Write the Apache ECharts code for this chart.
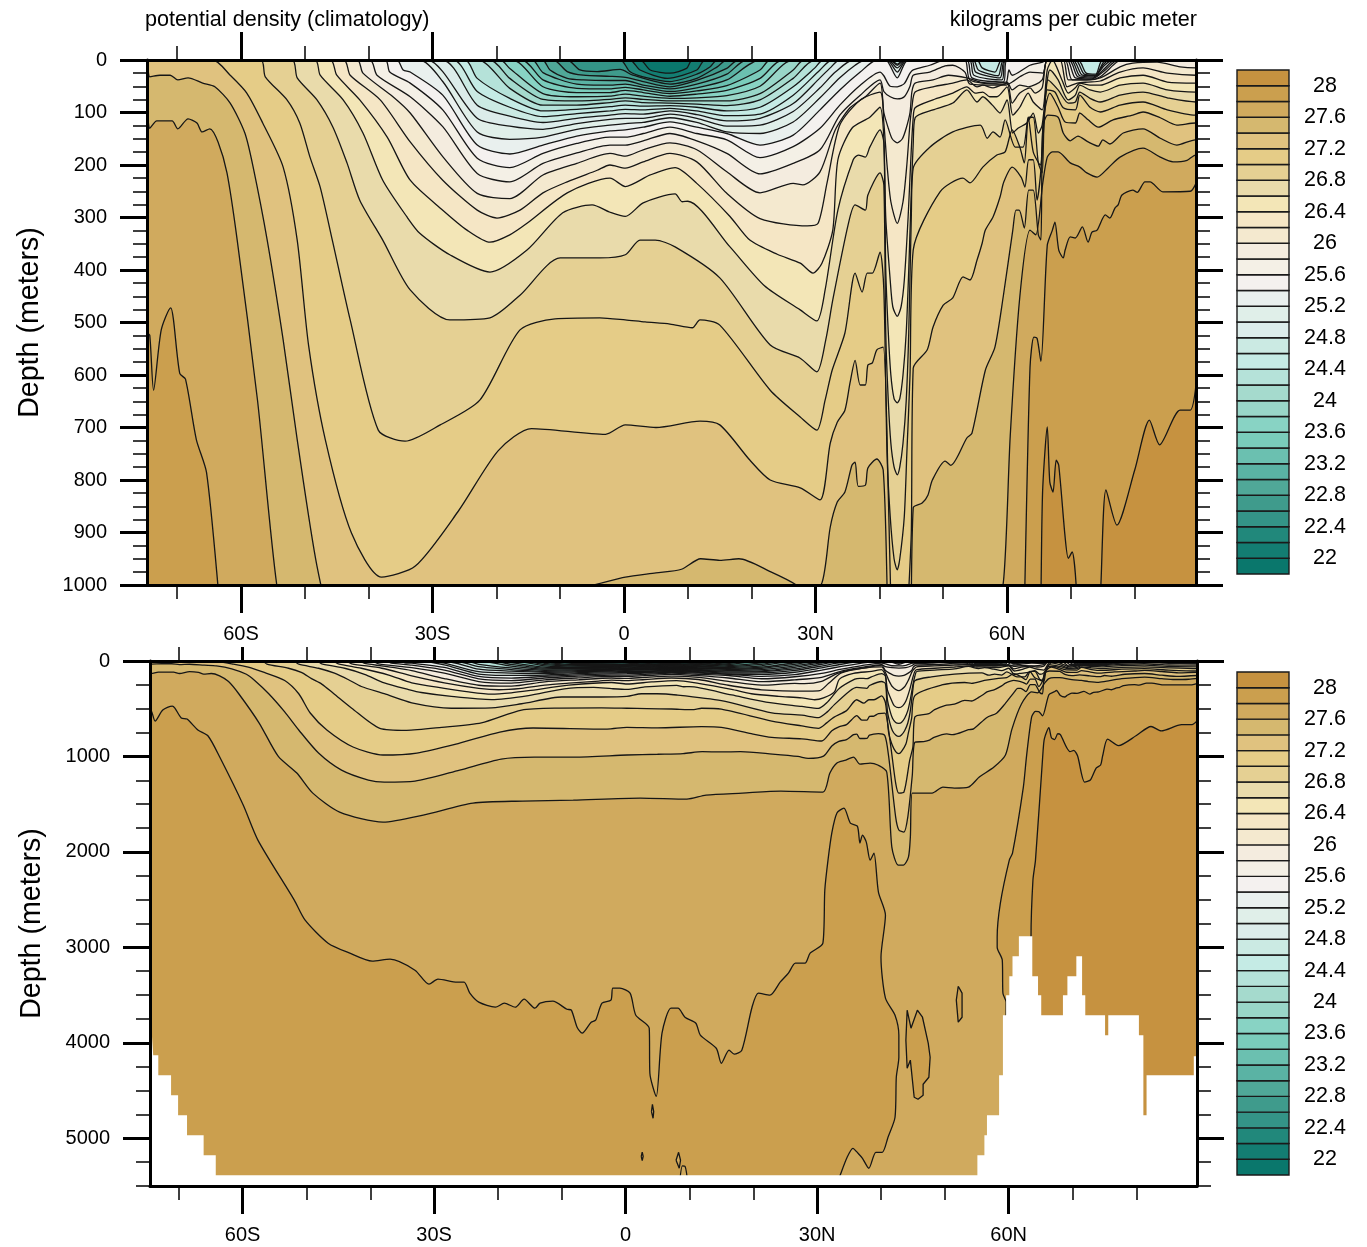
<!DOCTYPE html>
<html><head><meta charset="utf-8">
<script src="https://cdn.jsdelivr.net/npm/echarts@6/dist/echarts.min.js"></script>
<style>html,body{margin:0;background:#fff}#c{width:1367px;height:1247px}</style></head>
<body><div id="c"></div>
<script>
const majorLat=[-60,-30,0,30,60];
const minorLat=[-70,-50,-40,-20,-10,10,20,40,50,70,80];
const barLabels=[22,22.4,22.8,23.2,23.6,24,24.4,24.8,25.2,25.6,26,26.4,26.8,27.2,27.6,28];
const binEdges=[21.8,22,22.2,22.4,22.6,22.8,23,23.2,23.4,23.6,23.8,24,24.2,24.4,24.6,24.8,25,25.2,25.4,25.6,25.8,26,26.2,26.4,26.6,26.8,27,27.2,27.4,27.6,27.8,28,28.2];
const binColors=['#0a776c','#137d72','#21887b','#349487','#3f9b8c','#50a898','#5ab3a4','#6bc0b0','#7accbb','#88d3c4','#99d6c8','#a5dacd','#b5e2d9','#c5ebe5','#cbeae3','#dcecea','#e0efe9','#e9f0ee','#f4f1ef','#f4f0e6','#f4ecdf','#f4e9cf','#f5e6c5','#f3e6b7','#e9dbab','#e5d093','#e5cc87','#e0c27f','#d5b86f','#d0aa5e','#cb9f4e','#c69240'];
const c220=[[2.5,0],[4.1,19],[7.2,25],[9.8,16],[10.7,0]];
const c222=[[0.9,0],[2.5,19],[6.8,35],[11.4,19],[12.7,0]];
const c224=[[-0.6,0],[0.9,22],[3,32],[7.2,41],[11.4,27],[13.5,13],[14.6,0]];
const c226=[[-8.9,0],[-6.9,19],[-4.2,22],[-0.6,18],[1.4,29],[7.2,46],[11.4,35],[14.6,13],[16.1,0]];
const c228=[[-11.1,0],[-8.9,22],[-6.4,29],[-2.2,31],[0.2,33],[3,41],[7.2,51],[11.4,39],[16.1,16],[17.9,0]];
const c230=[[-12.8,0],[-11.6,19],[-8.9,35],[-6.4,38],[-2.2,39],[0.2,39],[3,48],[7.2,55],[11.4,46],[16.1,27],[19.2,0]];
const c232=[[-14.4,0],[-12.7,24],[-7.4,46],[-2.2,48],[0.2,46],[3,52],[7.2,60],[11.4,53],[16.1,38],[21.3,0]];
const c234=[[-16,0],[-12.7,38],[-7.4,54],[-2.2,55],[0.2,52],[3,57],[7.2,64],[11.4,59],[16.1,49],[21.3,19],[22.9,0]];
const c236=[[-17.5,0],[-12.7,51],[-7.4,62],[-2.2,62],[0.2,58],[3,62],[7.2,69],[11.4,65],[16.1,58],[21.3,35],[24.8,0]];
const c238=[[-19.4,0],[-17.9,16],[-12.7,64],[-7.4,70],[-2.2,69],[0.2,65],[3,69],[7.2,73],[11.4,72],[16.1,68],[21.3,50],[26.5,0]];
const c240=[[-21,0],[-17.9,35],[-12.7,75],[-7.4,78],[-2.2,75],[0.2,72],[3,75],[7.2,78],[11.4,78],[16.1,78],[21.3,64],[26.5,19],[28.2,0]];
const c242=[[-22.9,0],[-17.9,54],[-12.7,86],[-7.4,86],[-2.2,81],[0.2,78],[3,81],[7.2,82],[11.4,84],[16.1,87],[21.3,76],[26.5,35],[29.9,0]];
const c244=[[-24.9,0],[-23,35],[-17.9,73],[-12.7,97],[-7.4,94],[-2.2,89],[0.2,86],[3,88],[7.2,87],[11.4,90],[16.1,97],[21.3,90],[26.5,51],[29.9,15],[31.2,0]];
const c246=[[-26.8,0],[-23,60],[-17.9,90],[-12.7,108],[-7.4,102],[-2.2,97],[0.2,94],[3,95],[7.2,92],[11.4,97],[16.1,106],[21.3,103],[26.5,67],[30.7,19],[32.6,0],[41.8,0],[42.8,8],[43.8,0],[55.3,0],[56.1,15],[58.1,23],[59.2,0],[71.1,0],[72.4,25],[73.9,27],[75,0]];
const c248=[[-28.5,0],[-23,86],[-17.9,107],[-12.7,119],[-7.4,111],[-2.2,105],[0.2,102],[3,103],[7.2,97],[11.4,104],[16.1,116],[21.3,111],[26.5,83],[30.7,34],[32.3,15],[33.8,0],[41.7,0],[42.8,10],[44,0],[54.7,0],[55.5,19],[58.6,30],[59.5,0],[70.7,0],[72.1,27],[73.9,29],[75.5,0]];
const c250=[[-30.7,0],[-28.4,22],[-23,111],[-17.9,126],[-12.7,132],[-7.4,121],[-2.2,113],[0.2,111],[3,111],[7.2,103],[11.4,111],[16.1,126],[21.3,124],[26.5,98],[30.7,53],[33.1,23],[35.9,0],[41.4,0],[42.8,15],[44.2,0],[54.4,0],[55.1,23],[58.9,34],[59.7,0],[70.3,0],[71.8,29],[73.8,30],[75,10],[76,0]];
const c252=[[-32,0],[-28.4,41],[-23,137],[-17.9,151],[-12.7,147],[-7.4,132],[-2.2,124],[0.2,121],[3,119],[7.2,110],[11.4,119],[16.1,137],[21.3,140],[26.5,118],[30.7,72],[33.8,34],[36.2,10],[37.8,0],[41.2,0],[42.8,23],[44.3,0],[54.1,0],[54.8,29],[59.2,38],[59.8,0],[70,0],[71.4,30],[73.6,32],[75.2,11],[76.5,0]];
const c254=[[-35.6,0],[-34.6,19],[-33.5,23],[-28.4,67],[-23,162],[-17.9,179],[-12.7,162],[-7.4,145],[-2.2,135],[0.2,133],[3,128],[7.2,118],[11.4,128],[16.1,140],[21.3,162],[26.5,143],[30.7,95],[33.8,57],[37,23],[39.6,0],[41,0],[42.8,34],[44.5,0],[53.7,0],[54.5,34],[59.4,42],[60,0],[69.7,0],[71.1,32],[73.5,34],[75.4,15],[76.9,0]];
const c256=[[-37.4,0],[-36.7,23],[-33.5,44],[-28.4,95],[-23,187],[-17.9,205],[-12.7,178],[-7.4,159],[-2.2,147],[0.2,147],[3,140],[7.2,128],[11.4,140],[16.1,152],[21.3,186],[26.5,165],[30.7,130],[33.8,86],[37,48],[40.1,23],[40.7,30],[41.7,50],[42.8,51],[43.9,45],[44.8,25],[45.3,19],[47.9,10],[50.3,0],[53.4,0],[54.2,38],[59.7,46],[60.3,19],[60.8,29],[63.6,10],[65.6,4],[66.1,0],[69.4,0],[70.7,34],[73.3,36],[75.4,19],[77.4,0]];
const c258=[[-39.8,0],[-38.7,29],[-33.5,70],[-28.4,127],[-23,216],[-17.9,232],[-12.7,197],[-7.4,177],[-2.2,162],[0.2,162],[3,154],[7.2,140],[11.4,154],[16.1,178],[21.3,217],[26.5,197],[30.7,171],[33.8,105],[37,67],[40.1,38],[40.7,60],[41.7,70],[42.8,74],[43.9,70],[44.8,50],[45.3,29],[47.9,23],[50.3,11],[51.5,10],[53.4,23],[54.2,46],[59.7,48],[60.8,42],[62,32],[63.6,23],[65.6,25],[66.3,0],[69.1,0],[70.2,38],[73,38],[74.6,32],[77.2,4],[78.2,0]];
const c260=[[-41.8,0],[-40.9,25],[-36.2,70],[-33.5,101],[-28.4,184],[-23,254],[-17.9,264],[-12.7,219],[-7.4,197],[-2.2,178],[0.2,183],[3,171],[7.2,158],[11.4,171],[16.1,213],[21.3,253],[26.5,235],[28,238],[30.7,213],[33.1,133],[35.4,91],[37.8,70],[40.1,44],[40.7,100],[41.4,130],[42,150],[42.8,158],[43.6,150],[44.2,130],[44.8,100],[45.1,60],[45.6,44],[48.4,38],[50.8,29],[53.7,34],[55.8,42],[57.8,44],[60,42],[60.8,57],[62,48],[63.3,51],[65.5,38],[66.3,0],[68.8,0],[69.6,38],[71.4,38],[74.6,34],[77.7,13],[79.7,6],[83.5,4],[87.1,13],[89.6,15]];
const c262=[[-43.9,0],[-42.9,29],[-38.2,76],[-33.5,156],[-28.4,229],[-23,286],[-19.9,301],[-16.3,286],[-12.7,253],[-8.9,232],[-4.2,210],[-2.2,200],[0.2,206],[3,194],[7.2,178],[11.4,194],[16.1,254],[21.3,302],[28.7,316],[30.4,311],[31.8,234],[33.8,124],[37,76],[40.1,61],[40.7,120],[41.2,200],[41.8,270],[42.8,311],[43.7,270],[44.3,200],[44.8,120],[45.1,90],[45.6,61],[48.4,51],[51.5,44],[53.7,38],[55.3,51],[56.2,48],[57.8,53],[60,44],[60.8,82],[62,63],[63.6,53],[64.4,63],[65.5,53],[66.3,0],[68.3,0],[69.4,51],[71,44],[72.7,42],[74.6,40],[77.7,23],[81.3,15],[85.1,25],[89.6,29]];
const c264=[[-46,0],[-45,29],[-41.4,76],[-37.1,147],[-33.5,229],[-28.4,286],[-24.6,324],[-21,347],[-17.9,333],[-15.2,311],[-8.9,253],[-2.2,225],[0.2,241],[4.1,219],[8,205],[11.4,235],[16.6,298],[19.7,343],[24,370],[27.6,387],[29.6,406],[31,387],[32.7,324],[33.5,190],[35.7,130],[38.5,109],[40.1,90],[40.7,150],[41,300],[41.7,420],[42.1,470],[42.8,488],[43.4,470],[43.9,420],[44.5,300],[45,170],[45.3,110],[45.6,91],[48.4,76],[51.5,63],[53.7,51],[55,63],[56.2,61],[57.3,70],[58.4,70],[60,51],[60.9,105],[62,90],[63.3,63],[64.1,80],[65.5,95],[66.3,19],[67.1,0],[68.6,38],[69.6,63],[70.7,53],[71.4,44],[73,48],[74.6,48],[77.7,34],[81.3,29],[85.1,42],[89.6,44]];
const c266=[[-48.4,0],[-47.6,29],[-44,76],[-40.9,139],[-37.8,229],[-34,299],[-32,330],[-27.3,371],[-21,404],[-15.2,362],[-9.6,291],[-5,276],[-2.2,290],[0.2,298],[3,272],[8,255],[9.1,270],[10,269],[16.6,356],[22,430],[27.6,476],[30.2,497],[31.5,438],[33.5,286],[35.9,190],[36.7,181],[37.8,185],[38.5,166],[40.1,133],[40.7,158],[41,400],[41.4,520],[41.8,600],[42.3,645],[42.8,653],[43.2,645],[43.7,600],[44.2,520],[44.6,400],[45,250],[45.3,160],[45.6,110],[48.4,95],[51.5,82],[53.7,57],[55.3,80],[56.2,70],[57.7,86],[58.9,101],[60,76],[60.9,139],[61.7,130],[63.1,120],[64.1,101],[64.9,139],[65.5,124],[66.3,38],[66.7,19],[68,38],[69.6,76],[70.7,67],[71.4,48],[73,57],[74.6,61],[77.7,48],[81.3,44],[85.1,57],[89.6,61]];
const c268=[[-52,0],[-51.2,34],[-48.1,76],[-45.6,128],[-43.4,196],[-41.4,267],[-37.8,343],[-33.5,438],[-27.3,495],[-21,491],[-16.3,448],[-10,377],[-3.8,377],[0.2,371],[2.5,343],[4.9,343],[8,356],[15,415],[22.9,543],[27.6,568],[30.2,594],[31.6,533],[32.7,457],[35.1,314],[36.2,276],[37.8,286],[38.2,257],[40.1,215],[40.7,238],[41,520],[41.4,650],[41.8,730],[42.3,775],[42.8,790],[43.2,775],[43.7,730],[44.2,650],[44.6,520],[45,300],[45.3,206],[47.9,166],[51.5,137],[55.8,124],[56.9,149],[57.8,137],[58.9,147],[59.7,114],[61.3,166],[62.5,166],[63.3,109],[64.1,175],[65.2,200],[65.8,120],[66.4,38],[68,57],[69.6,82],[70.7,80],[71.4,61],[73,73],[74.6,80],[77.7,67],[81.3,61],[85.1,72],[89.6,80]];
const c270=[[-56.9,0],[-56.2,32],[-52.8,76],[-50.8,120],[-49.2,185],[-47.6,242],[-45.7,343],[-42.9,495],[-38.5,705],[-34.3,726],[-28.8,695],[-22.6,648],[-16.3,514],[-10.8,493],[-3.8,491],[0.2,495],[3.3,499],[7.2,503],[10.7,510],[11.9,495],[15,505],[22.9,629],[27.6,680],[30.2,705],[31.5,648],[32.6,591],[34.6,520],[36.2,406],[37.3,442],[38.1,406],[38.9,406],[40.1,366],[40.7,438],[41.2,750],[41.7,870],[42.3,950],[42.8,971],[43.2,950],[43.9,870],[44.3,750],[44.8,600],[45.3,362],[49.5,251],[53.1,225],[54.2,234],[56.2,204],[58.4,181],[59.7,175],[60.8,133],[62,166],[62.7,196],[63.4,109],[64.1,109],[64.9,196],[65.5,215],[65.8,114],[66.3,57],[67.5,61],[68.8,91],[70.7,95],[71.4,67],[73,90],[74.6,99],[77.7,86],[81.3,80],[85.1,95],[89.5,105]];
const c272=[[-64.4,0],[-61.7,29],[-59.1,63],[-56.6,120],[-53.4,204],[-51.2,343],[-49.4,545],[-46.8,723],[-42.7,901],[-38,985],[-32.7,964],[-26,860],[-19.7,744],[-14.5,702],[-2.9,713],[0.2,695],[5,700],[11.9,688],[15,695],[19.7,762],[22.9,800],[27.6,815],[30.7,838],[32.3,730],[33.4,690],[34.6,667],[35.4,615],[36.2,572],[37,619],[37.8,619],[38.2,581],[38.9,577],[39.6,552],[40.6,547],[41.4,828],[42.3,1279],[42.8,1384],[43.6,1373],[44.5,1038],[45,900],[45.3,587],[47.5,552],[48.4,509],[50,467],[51.5,453],[53.1,413],[54.2,419],[55.3,381],[56.1,349],[56.6,324],[57.8,299],[58.9,261],[59.5,232],[60.8,204],[62.2,223],[62.8,242],[63.4,190],[64.1,190],[64.7,267],[65.3,210],[65.6,133],[66,90],[66.7,63],[68,90],[69.1,118],[70.7,120],[71.4,101],[72.7,114],[74.3,128],[76.6,114],[79.7,105],[81.3,99],[84,110],[86.6,124],[89.5,120]];
const c274=[[-74.7,6],[-74.3,32],[-72.7,29],[-71.1,29],[-69.9,38],[-68.3,34],[-66,44],[-64.1,51],[-61.7,82],[-59.4,139],[-58.1,204],[-55.9,343],[-53.4,533],[-51.2,723],[-48.1,964],[-44.5,1143],[-40.3,1247],[-37.8,1268],[-33,1258],[-26,1143],[-19.5,1027],[-14.3,1006],[-8,1006],[0.2,985],[5,977],[9,970],[12,950],[15,953],[18,950],[23,975],[27,1000],[28.6,1020],[31,996],[32.3,890],[33.4,842],[34.6,823],[35.7,772],[36.2,766],[36.7,812],[37.8,810],[38.2,777],[39.6,760],[40.6,781],[41.2,1000],[42.3,1635],[42.8,1771],[43.6,1792],[44.2,1635],[44.9,1200],[45.3,853],[46.7,844],[47.6,829],[48.3,800],[50.3,764],[51.2,772],[53.7,720],[54.5,711],[56.6,591],[58.1,547],[59.4,451],[60.9,324],[61.4,286],[61.9,286],[62.7,320],[63.4,248],[64.1,248],[64.9,333],[65.3,343],[65.6,128],[66.4,105],[68,109],[68.8,139],[69.9,154],[71.1,145],[72.7,156],[74.3,164],[75,152],[76.1,160],[78.2,139],[81.3,131],[84,149],[86.6,162],[89.5,152]];
const c276=[[-74.7,109],[-74.3,130],[-73.2,116],[-70.8,116],[-69.9,131],[-68.3,112],[-66.9,120],[-66.1,137],[-64.9,131],[-63.6,156],[-62.2,215],[-60.6,343],[-57.4,650],[-54.4,1000],[-51.5,1174],[-49,1384],[-44.8,1583],[-38,1688],[-31.7,1614],[-23.9,1488],[-16.1,1467],[-8.2,1457],[2.3,1436],[9.6,1447],[12.6,1405],[18.3,1384],[24.3,1363],[30.9,1373],[32,1174],[33.1,1069],[34.5,1038],[35.7,1006],[36.7,1080],[38.3,1069],[39.5,1090],[40.9,1163],[41.7,1950],[42.7,2139],[43.5,2139],[44.3,2055],[44.6,1845],[44.9,1384],[48,1384],[49.7,1321],[51.5,1331],[53.7,1321],[55.4,1216],[57.7,1111],[59.5,985],[60.5,716],[62,451],[63.6,324],[64.5,333],[65.6,234],[66.3,185],[67.1,175],[68,175],[69.9,196],[71.4,204],[72.5,215],[74.1,223],[75.8,206],[77.7,185],[81.3,168],[84,185],[86,194],[88.2,191],[89.5,181]];
const c278a=[[-74.7,520],[-74.3,524],[-73.7,629],[-72.5,514],[-71,472],[-70.6,493],[-69.6,597],[-68.7,608],[-67,723],[-65.4,786],[-63.5,1017],[-59.9,1509],[-57.6,1876],[-51.9,2505],[-50.2,2715],[-46.6,2956],[-43.2,3061],[-39.7,3145],[-36.9,3124],[-33,3239],[-30.8,3386],[-29.4,3333],[-26.4,3365],[-25.3,3365],[-24.4,3480],[-23,3574],[-20.4,3627],[-19,3585],[-17.3,3627],[-15.9,3543],[-14.2,3637],[-13.4,3585],[-11.4,3564],[-9.2,3648],[-8.5,3658],[-7.6,3836],[-6.8,3899],[-5.4,3784],[-4.7,3763],[-3.7,3585],[-2.3,3553],[-2,3428],[-0.9,3428],[0.7,3480],[1.6,3711],[3.7,3847],[3.8,4319],[4.8,4560],[5.7,3899],[7.1,3637],[8.2,3637],[9.3,3732],[11,3795],[11.7,3920],[14.2,4057],[15,4214],[16.2,4077],[17,4119],[18.2,4077],[19.8,3627],[20.8,3480],[22.6,3501],[24.2,3365],[25.5,3270],[26.6,3166],[28.1,3166],[28.9,3061],[30.9,2956],[31.2,2400],[31.7,2086],[32.3,1800],[33.1,1593],[34.2,1541],[35.2,1698],[36.3,1730],[36.7,1908],[37.1,1824],[37.7,1897],[38.3,2086],[38.9,2013],[39.6,2421],[40.7,2662],[40,3103],[40.7,3532],[42.2,3711],[42.8,3920],[42.8,4151],[42.4,4361],[42.2,4780],[41.1,4990],[40.2,5147],[39.2,5147],[38.1,5314],[37.1,5210],[36.4,5157],[35.6,5105],[34.7,5199],[33.6,5388],[33,5500]];
const c278b=[[59.6,5500],[59.6,3574],[59.1,3480],[59,3134],[58.2,2998],[58.2,2893],[58.7,2537],[60.1,2086],[60.6,2013],[62.3,1321],[62.8,996],[63.6,585],[64.2,528],[64.7,530],[65.3,574],[66.3,353],[67.1,324],[67.5,309],[68.1,362],[68.8,377],[69.1,362],[69.9,337],[70.7,339],[71.8,318],[72.7,347],[73.3,328],[74.1,324],[75.4,295],[76.1,301],[76.9,282],[77.4,276],[78,257],[79.7,248],[80.4,252],[81.6,232],[82.4,232],[84.4,251],[88.7,250],[89.6,235]];
const c280=[[63.5,5500],[63.5,2893],[63.8,2296],[64.2,2086],[65.4,933],[65.6,813],[66.3,699],[66.7,804],[67.2,823],[67.7,762],[68.1,772],[69.1,909],[69.6,949],[70.2,937],[70.8,996],[71.9,1268],[72.8,1247],[73.7,1122],[74.4,1090],[74.7,1000],[75.5,819],[77.2,886],[80,781],[82.3,686],[83.9,733],[87.1,667],[88.7,667],[89.6,619]];
const blobDense1=[[44.1,3658],[44.7,3847],[45.7,3658],[46.5,3732],[47.4,4004],[47.7,4151],[47.5,4361],[46.6,4434],[46.6,4549],[45.8,4591],[45.2,4570],[44.6,4182],[44.1,4266],[43.9,3973],[44.1,3658]];
const blobDense2=[[52.1,3407],[52.7,3480],[52.7,3732],[52.1,3784],[51.8,3553],[52.1,3407]];
const blobLight1=[[4.05,4720],[4.2,4644],[4.4,4720],[4.3,4790],[4.1,4790],[4.05,4720]];
const blobLight2=[[2.45,5190],[2.6,5145],[2.75,5190],[2.6,5235],[2.45,5190]];
const blobLight3=[[7.9,5230],[8.3,5147],[8.6,5230],[8.4,5314],[8.2,5314],[7.9,5230]];
const blobLight4=[[8.4,5500],[8.9,5290],[9.3,5293],[9.8,5500]];
const maskLat=[-74.5,-74.2,-74,-73.2,-71.2,-70.1,-68.7,-66.1,-64.2,55.1,56.2,56.6,58.5,59.1,59.6,60.1,60.6,61.6,63.7,64.6,65.1,68.5,69.2,70.6,71.5,72,75.1,75.6,80.4,81.1,81.6,89,90];
const maskDepth=[6000,3920,4130,4340,4549,4759,4969,5178,5388,5178,4969,4759,4340,3711,3501,3302,3092,2883,3302,3501,3711,3501,3302,3092,3501,3711,3920,3711,3920,4759,4340,4141,4141];

// contour, fill colour index of the band below it
const layers=[[c220,1],[c222,2],[c224,3],[c226,4],[c228,5],[c230,6],[c232,7],[c234,8],[c236,9],[c238,10],[c240,11],[c242,12],[c244,13],[c246,14],[c248,15],[c250,16],[c252,17],[c254,18],[c256,19],[c258,20],[c260,21],[c262,22],[c264,23],[c266,24],[c268,25],[c270,26],[c272,27],[c274,28],[c276,29],[c278a,30],[c278b,30],[blobDense1,30],[blobDense2,30],[blobLight1,29],[blobLight2,29],[blobLight3,29],[blobLight4,29],[c280,31]];
const partial=new Set([c278a,c278b,c280,blobLight4]);
const loops=new Set([blobDense1,blobDense2,blobLight1,blobLight2,blobLight3]);
const LATMIN=-75,LATMAX=90;
function full(c){
  if(partial.has(c)||loops.has(c))return c;
  const r=c.slice();
  if(r[0][0]>LATMIN)r.unshift([LATMIN,r[0][1]]);
  if(r[r.length-1][0]<LATMAX)r.push([LATMAX,r[r.length-1][1]]);
  return r;
}
const latFmt=v=>v<0?(-v)+'S':v>0?v+'N':'0';
const grids=[],xAxes=[],yAxes=[],series=[];
function addPanel(left,width,top,height,latMin,latMax,depthMax,yMaj,yMin,nameGap,topMajorLen,withMask){
  const g=grids.length;
  grids.push({left,top,width,height,show:true,backgroundColor:binColors[0],borderWidth:0,containLabel:false});
  const bx=xAxes.length,by=yAxes.length;
  const xa=(pos,vals,len,w,line,label)=>({type:'value',gridIndex:g,position:pos,min:latMin,max:latMax,z:50,splitLine:{show:false},
    axisLine:{show:line,onZero:false,lineStyle:{color:'#000',width:3}},
    axisTick:{show:true,customValues:vals,length:len,lineStyle:{color:'#000',width:w}},
    axisLabel:label?{show:true,customValues:vals,formatter:latFmt,margin:37,fontFamily:'Liberation Sans',fontSize:20,color:'#000',padding:[2,0,0,0]}:{show:false,customValues:vals}});
  xAxes.push(xa('bottom',majorLat,28,3,true,true),xa('bottom',minorLat,14,1.5,false,false),xa('top',majorLat,topMajorLen,3,true,false),xa('top',minorLat,14,1.5,false,false));
  const ya=(pos,vals,len,w,line,label)=>({type:'value',gridIndex:g,position:pos,inverse:true,min:0,max:depthMax,z:50,splitLine:{show:false},
    axisLine:{show:line,onZero:false,lineStyle:{color:'#000',width:3}},
    axisTick:{show:true,customValues:vals,length:len,lineStyle:{color:'#000',width:w}},
    axisLabel:label?{show:true,customValues:vals,formatter:v=>String(v),margin:40,fontFamily:'Liberation Sans',fontSize:20,color:'#000',padding:[2,0,0,0]}:{show:false,customValues:vals},
    ...(label?{name:'Depth (meters)',nameLocation:'middle',nameRotate:90,nameGap,nameTextStyle:{fontFamily:'Liberation Sans',fontSize:28.6,color:'#000'}}:{})});
  yAxes.push(ya('left',yMaj,27,3,true,true),ya('left',yMin,14,1.5,false,false),ya('right',yMaj,27,3,true,false),ya('right',yMin,14,1.5,false,false));
  layers.forEach(([c,ci])=>{
    const origin=loops.has(c)?c[0][1]:'end';
    series.push({type:'line',xAxisIndex:bx,yAxisIndex:by,data:full(c),symbol:'none',silent:true,animation:false,z:3,smooth:loops.has(c)?0:0.25,
      lineStyle:{color:'#161616',width:1.3},areaStyle:{origin,color:binColors[ci],opacity:1},clip:true});
  });
  if(withMask)series.push({type:'line',xAxisIndex:bx,yAxisIndex:by,step:'end',data:maskLat.map((v,i)=>[v,maskDepth[i]]),symbol:'none',silent:true,animation:false,z:4,
    lineStyle:{width:0,opacity:0},areaStyle:{origin:'end',color:'#fff',opacity:1},clip:true});
}
function addBar(left,top,height){
  const g=grids.length;
  grids.push({left,top,width:52,height,containLabel:false});
  const bx=xAxes.length,by=yAxes.length;
  xAxes.push({type:'value',gridIndex:g,min:0,max:1,show:false});
  yAxes.push({type:'value',gridIndex:g,position:'right',min:21.8,max:28.2,splitLine:{show:false},axisLine:{show:false},axisTick:{show:false,customValues:barLabels},
    axisLabel:{show:true,customValues:barLabels,formatter:v=>String(v),align:'center',margin:36,fontFamily:'Liberation Sans',fontSize:21.5,color:'#000',padding:[5,0,0,0]}});
  series.push({type:'custom',xAxisIndex:bx,yAxisIndex:by,silent:true,animation:false,clip:false,
    data:binColors.map((c,i)=>[0,1,binEdges[i],binEdges[i+1],i]),encode:{x:[0,1],y:[2,3]},
    renderItem:(p,api)=>{
      const a=api.coord([api.value(0),api.value(2)]),b=api.coord([api.value(1),api.value(3)]);
      return {type:'rect',shape:{x:a[0],y:b[1],width:b[0]-a[0],height:a[1]-b[1]},style:{fill:binColors[api.value(4)],stroke:'#1a1a1a',lineWidth:1.4}};
    }});
}
const depthTop=[0,100,200,300,400,500,600,700,800,900,1000];
const depthTopMinor=[25,50,75,125,150,175,225,250,275,325,350,375,425,450,475,525,550,575,625,650,675,725,750,775,825,850,875,925,950,975];
const depthBot=[0,1000,2000,3000,4000,5000];
const depthBotMinor=[250,500,750,1250,1500,1750,2250,2500,2750,3250,3500,3750,4250,4500,4750,5250,5500];
addPanel(147,1049,60,525,-74.73,89.6,1000,depthTop,depthTopMinor,102,28,false);
addPanel(150,1047,661,525,-74.5,89.5,5500,depthBot,depthBotMinor,103,14,true);
addBar(1237,70,504);
addBar(1237,672,503);
const chart=echarts.init(document.getElementById('c'),null,{renderer:'canvas'});
const titleFont={fontFamily:'Liberation Sans',fontWeight:'normal',fontSize:21.6,color:'#000'};
chart.setOption({animation:false,backgroundColor:'#fff',
  title:[{text:'potential density (climatology)',left:145,top:9,padding:0,textStyle:titleFont},
         {text:'kilograms per cubic meter',right:170,top:9,padding:0,textStyle:titleFont}],
  grid:grids,xAxis:xAxes,yAxis:yAxes,series});
</script></body></html>
